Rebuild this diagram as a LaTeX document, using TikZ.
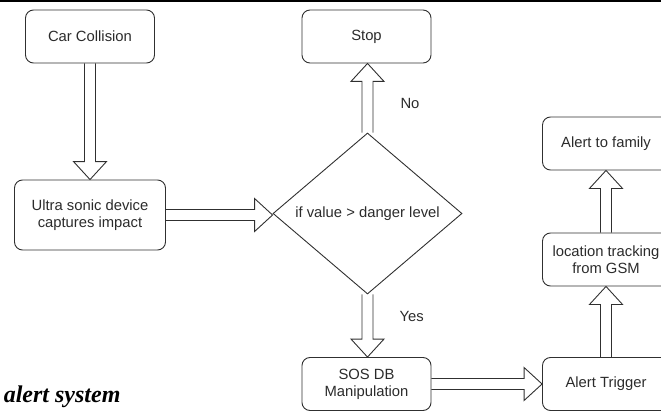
\documentclass[tikz,border=0pt]{standalone}
\usepackage{fontspec}
\setmainfont{Liberation Sans}
\newfontfamily\capfont{Liberation Serif}
\usepackage{xcolor}
\usepackage{tikz}
\usetikzlibrary{calc,shapes.geometric,positioning}
\definecolor{ink}{HTML}{2B2B2B}
\definecolor{edge}{HTML}{303030}
\tikzset{
  box/.style={draw=edge, line width=0.9pt, rounded corners=8pt, minimum width=129pt,
    minimum height=53pt, inner sep=2pt, align=center, text=ink, font=\fontsize{14.8}{17}\selectfont},
  dec/.style={draw=edge, line width=0.9pt, diamond, aspect=1.17, minimum width=189pt,
    minimum height=161pt, inner sep=0pt, text=ink, font=\fontsize{14.8}{17}\selectfont},
  blk/.style={draw=edge, line width=0.9pt, line join=miter},
  lab/.style={text=ink, font=\fontsize{14.8}{17}\selectfont, anchor=west},
  captext/.style={text=black, font=\capfont\bfseries\itshape\fontsize{24}{28}\selectfont, anchor=base east},
}
% hollow block arrow: start, end, direction
\newcommand{\blockarrow}[3]{%
  \begin{scope}[shift={(#1)}, rotate=#3]
    \draw[blk] let \p1=($(#2)-(#1)$), \n1={veclen(\x1,\y1)} in
      (0pt,5.5pt) -- (\n1-18pt,5.5pt) -- (\n1-18pt,16.5pt) -- (\n1,0pt)
      -- (\n1-18pt,-16.5pt) -- (\n1-18pt,-5.5pt) -- (0pt,-5.5pt);
  \end{scope}}

\begin{document}
\begin{tikzpicture}[x=1pt, y=-1pt]
  \useasboundingbox (0,0) rectangle (661,412);
  \clip (0,0) rectangle (661,412);
  \draw[line width=2pt] (0,1) -- (661,1);

  \node[box] (car) at (90,36.5) {Car Collision};
  \node[box, minimum width=151pt, minimum height=70pt] (ultra) at (90,215) {Ultra sonic device\\captures impact};
  \node[dec] (check) at (367.5,213.5) {if value > danger level};
  \node[box] (stop) at (366.5,36.5) {Stop};
  \node[box] (sos) at (366.5,384) {SOS DB\\Manipulation};
  \node[box, minimum width=127pt] (trigger) at (606,384) {Alert Trigger};
  \node[box, minimum width=127pt] (track) at (606,259.5) {location tracking\\from GSM};
  \node[box, minimum width=127pt] (family) at (606,143.5) {Alert to family};

  \blockarrow{car.south}{ultra.north}{-90}
  \blockarrow{ultra.east}{check.west}{0}
  \blockarrow{check.north}{stop.south}{90}
  \blockarrow{check.south}{sos.north}{-90}
  \blockarrow{sos.east}{trigger.west}{0}
  \blockarrow{trigger.north}{track.south}{90}
  \blockarrow{track.north}{family.south}{90}

  \node[lab] (no) at (397,103) {No};
  \node[lab] (yes) at (396,316) {Yes};
  \node[captext] (caption) at (124,402) {alert system};
\end{tikzpicture}
\end{document}
